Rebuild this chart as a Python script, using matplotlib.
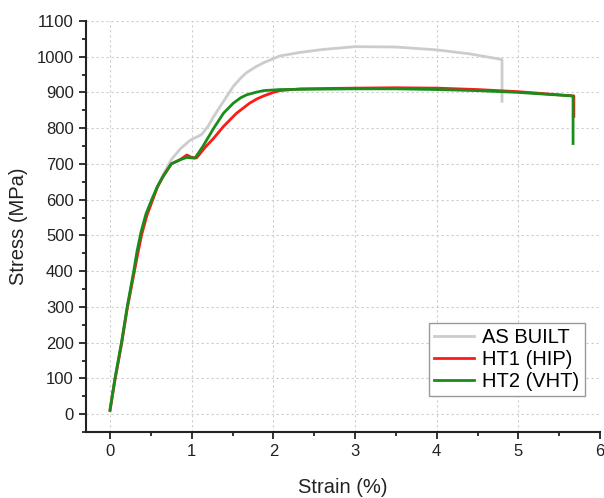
import matplotlib.pyplot as plt
from matplotlib.ticker import MultipleLocator

plt.rcParams['font.family'] = ['Liberation Sans', 'DejaVu Sans']

# AS BUILT
ab_strain = [0.0, 0.06, 0.14, 0.21, 0.29, 0.34, 0.39, 0.45, 0.51, 0.58, 0.65, 0.75, 0.86, 0.98, 1.12,
             1.2, 1.27, 1.39, 1.51, 1.6, 1.67, 1.78, 1.88, 2.08, 2.33, 2.6, 3.0, 3.5, 4.0, 4.4, 4.8, 4.8]
ab_stress = [10, 95, 195, 295, 390, 450, 505, 555, 595, 635, 670, 712, 742, 766, 782,
             805, 833, 875, 917, 940, 955, 971, 983, 1002, 1012, 1020, 1028, 1027, 1019, 1008, 992, 875]

# HT1 (HIP)
h1_strain = [0.0, 0.06, 0.14, 0.21, 0.29, 0.34, 0.39, 0.45, 0.52, 0.58, 0.65, 0.75, 0.86, 0.94, 1.0, 1.06,
             1.16, 1.27, 1.39, 1.55, 1.71, 1.8, 1.88, 2.0, 2.08, 2.33, 3.0, 3.5, 4.0, 4.5, 5.0, 5.68, 5.68]
h1_stress = [10, 95, 195, 295, 390, 450, 505, 555, 598, 635, 665, 700, 712, 725, 718, 717,
             745, 772, 805, 842, 870, 882, 890, 900, 905, 910, 912, 913, 912, 908, 902, 890, 833]

# HT2 (VHT)
h2_strain = [0.0, 0.06, 0.14, 0.21, 0.29, 0.33, 0.38, 0.44, 0.51, 0.58, 0.65, 0.75, 0.86, 0.94, 1.04,
             1.14, 1.27, 1.39, 1.51, 1.6, 1.67, 1.78, 1.88, 2.08, 2.5, 3.0, 3.5, 4.0, 4.5, 5.0, 5.67, 5.67]
h2_stress = [13, 100, 200, 300, 400, 455, 510, 560, 600, 637, 665, 700, 712, 718, 716,
             750, 800, 842, 870, 885, 893, 900, 905, 908, 909, 910, 910, 908, 905, 900, 890, 757]

fig = plt.figure(figsize=(6.04, 4.98), dpi=100)
ax = fig.add_axes([0.1416, 0.1325, 0.8518, 0.8255])

ax.plot(ab_strain, ab_stress, color='#cccccc', lw=2, label='AS BUILT')
ax.plot(h1_strain, h1_stress, color='#ff1a1a', lw=2, label='HT1 (HIP)')
ax.plot(h2_strain, h2_stress, color='#1a8c1a', lw=2, label='HT2 (VHT)')

ax.set_xlim(-0.3, 6.0)
ax.set_ylim(-50, 1100)
ax.xaxis.set_major_locator(MultipleLocator(1))
ax.xaxis.set_minor_locator(MultipleLocator(0.5))
ax.yaxis.set_major_locator(MultipleLocator(100))
ax.yaxis.set_minor_locator(MultipleLocator(50))

ax.grid(True, which='major', color='#cccccc', ls=(0, (2, 2.5)), lw=0.8)
for s in ['top', 'right']:
    ax.spines[s].set_visible(False)
for s in ['left', 'bottom']:
    ax.spines[s].set_linewidth(1.5)
    ax.spines[s].set_color('#222222')
ax.tick_params(which='major', direction='out', length=5, width=1.3, labelsize=12,
               labelcolor='#222222', color='#222222')
ax.tick_params(which='minor', direction='out', length=3, width=1.3, color='#222222')

ax.set_xlabel('Strain (%)', fontsize=14.5, color='#222222', labelpad=14)
ax.set_ylabel('Stress (MPa)', fontsize=14.5, color='#222222', labelpad=6)

leg = ax.legend(loc='lower right', bbox_to_anchor=(0.97, 0.088), fontsize=14.5,
                fancybox=False, framealpha=1, edgecolor='#999999',
                handlelength=2.0, borderpad=0.25, labelspacing=0.15, handletextpad=0.4,
                borderaxespad=0)
leg.get_frame().set_linewidth(1.0)

fig.savefig('out.png', dpi=100)
